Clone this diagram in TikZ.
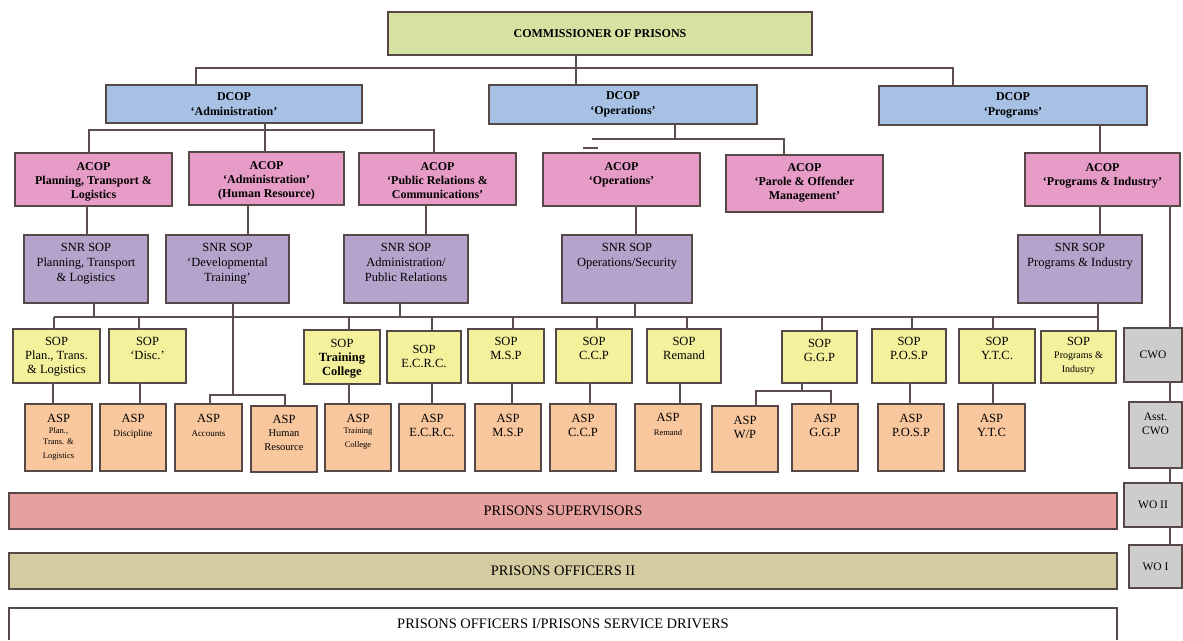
\documentclass[tikz,border=0pt]{standalone}
\usepackage{fontspec}
\setmainfont{Liberation Serif}
\definecolor{bord}{HTML}{574848}
\definecolor{cline}{HTML}{5C4E4E}
\definecolor{comg}{HTML}{D5E2A2}
\definecolor{dcopc}{HTML}{A6C1E3}
\definecolor{acopc}{HTML}{E69CC6}
\definecolor{snrc}{HTML}{B4A3CB}
\definecolor{sopc}{HTML}{F4F19C}
\definecolor{aspc}{HTML}{F8C79D}
\definecolor{greyc}{HTML}{CDCDCD}
\definecolor{supc}{HTML}{E6A09E}
\definecolor{offc}{HTML}{D5CBA0}
\newcommand\fs[2]{\fontsize{#1pt}{#2pt}\selectfont}
\newcommand\BT[4]{\parbox[c][#2pt][t]{#1pt}{\centering\rule{0pt}{#3pt}#4\par}}
\tikzset{
  bx/.style={draw=bord, line width=1.7pt, inner sep=0pt, outer sep=0pt, anchor=north west},
  cbx/.style={bx, align=center},
  comst/.style={cbx, fill=comg, font=\bfseries\fs{12}{14}},
  dcopst/.style={cbx, fill=dcopc, font=\bfseries\fs{12}{15}},
  acopst/.style={bx, fill=acopc, font=\bfseries\fs{12}{14}},
  snrst/.style={bx, fill=snrc, font=\fs{12.5}{15}},
  sopst/.style={bx, fill=sopc, font=\fs{12.5}{14}},
  aspst/.style={bx, fill=aspc, font=\fs{12.5}{14}},
  greyst/.style={cbx, fill=greyc, font=\fs{11.5}{14}},
  barst/.style={cbx, font=\fs{14.5}{16}},
  ln/.style={draw=cline, line width=1.4pt},
}
\begin{document}
\begin{tikzpicture}[x=1pt,y=-1pt]
\useasboundingbox (0,0) rectangle (1183,640);
\fill[white] (0,0) rectangle (1183,640);

% ---------- top levels
\node[comst, minimum width=424pt, minimum height=43pt] (com) at (388,12) {COMMISSIONER OF PRISONS};
\node[dcopst, minimum width=256pt, minimum height=38pt] (dadm) at (106,85) {DCOP\\‘Administration’};
\node[dcopst, minimum width=268pt, minimum height=39pt] (dops) at (489,85) {DCOP\\‘Operations’};
\node[dcopst, minimum width=268pt, minimum height=39pt] (dprog) at (879,86) {DCOP\\‘Programs’};

% ---------- ACOP
\node[acopst] (a1) at (15,153) {\BT{157}{53}{17}{ACOP\\Planning, Transport \&\\Logistics}};
\node[acopst] (a2) at (189,152) {\BT{155}{53}{17}{ACOP\\‘Administration’\\(Human Resource)}};
\node[acopst] (a3) at (359,153) {\BT{157}{52}{17}{ACOP\\‘Public Relations \&\\Communications’}};
\node[acopst] (aops) at (543,153) {\BT{157}{53}{17}{ACOP\\‘Operations’}};
\node[acopst] (apar) at (726,155) {\BT{157}{57}{16}{ACOP\\‘Parole \& Offender\\Management’}};
\node[acopst] (aprog) at (1025,153) {\BT{155}{53}{18}{ACOP\\‘Programs \& Industry’}};

% ---------- SNR SOP
\node[snrst] (s1) at (24,235) {\BT{124}{68}{16}{SNR SOP\\Planning, Transport\\\& Logistics}};
\node[snrst] (s2) at (166,235) {\BT{123}{68}{16}{SNR SOP\\‘Developmental\\Training’}};
\node[snrst] (s3) at (344,235) {\BT{124}{68}{16}{SNR SOP\\Administration/\\Public Relations}};
\node[snrst] (sops) at (562,235) {\BT{130}{68}{16}{SNR SOP\\Operations/Security}};
\node[snrst] (sprog) at (1018,235) {\BT{124}{68}{16}{SNR SOP\\Programs \& Industry}};

% ---------- SOP
\node[sopst] (p1) at (13,329) {\BT{87}{54}{16}{SOP\\Plan., Trans.\\\& Logistics}};
\node[sopst] (pdisc) at (109,329) {\BT{77}{54}{16}{SOP\\‘Disc.’}};
\node[sopst] (ptc) at (304,330) {\BT{76}{54}{17}{SOP\\\textbf{Training}\\\textbf{College}}};
\node[sopst] (pecrc) at (387,331) {\BT{74}{52}{22}{SOP\\E.C.R.C.}};
\node[sopst] (pmsp) at (468,329) {\BT{76}{54}{16}{SOP\\M.S.P}};
\node[sopst] (pccp) at (556,329) {\BT{76}{54}{16}{SOP\\C.C.P}};
\node[sopst] (prem) at (647,329) {\BT{74}{54}{16}{SOP\\Remand}};
\node[sopst] (pggp) at (782,331) {\BT{75}{52}{16}{SOP\\G.G.P}};
\node[sopst] (pposp) at (872,329) {\BT{74}{54}{16}{SOP\\P.O.S.P}};
\node[sopst] (pytc) at (959,329) {\BT{76}{54}{16}{SOP\\Y.T.C.}};
\node[sopst] (pprog) at (1041,331) {\BT{75}{52}{14}{SOP\\{\fs{10}{13}Programs \&\\Industry}}};
\node[greyst, minimum width=58pt, minimum height=54pt] (cwo) at (1124,328) {CWO};

% ---------- ASP
\node[aspst] (q1) at (25,404) {\BT{67}{67}{18}{ASP\\{\fs{8.5}{11}Plan.,\\Trans. \&\\Logistics}}};
\node[aspst] (qdisc) at (100,404) {\BT{66}{67}{18}{ASP\\{\fs{9.5}{12}Discipline}}};
\node[aspst] (qacc) at (175,404) {\BT{67}{67}{18}{ASP\\{\fs{9}{11}Accounts}}};
\node[aspst] (qhr) at (251,406) {\BT{66}{66}{17}{ASP\\{\fs{10.5}{13}Human\\Resource}}};
\node[aspst] (qtc) at (325,404) {\BT{66}{67}{18}{ASP\\{\fs{8.5}{11}Training\\College}}};
\node[aspst] (qecrc) at (399,404) {\BT{66}{67}{18}{ASP\\E.C.R.C.}};
\node[aspst] (qmsp) at (475,404) {\BT{66}{67}{18}{ASP\\M.S.P}};
\node[aspst] (qccp) at (550,404) {\BT{66}{67}{18}{ASP\\C.C.P}};
\node[aspst] (qrem) at (635,404) {\BT{66}{67}{17}{ASP\\{\fs{8.5}{11}Remand}}};
\node[aspst] (qwp) at (712,406) {\BT{66}{66}{18}{ASP\\W/P}};
\node[aspst] (qggp) at (792,404) {\BT{66}{67}{18}{ASP\\G.G.P}};
\node[aspst] (qposp) at (878,404) {\BT{66}{67}{18}{ASP\\P.O.S.P}};
\node[aspst] (qytc) at (958,404) {\BT{67}{67}{18}{ASP\\Y.T.C}};
\node[bx, fill=greyc, font=\fs{11.5}{14}] (acwo) at (1129,402) {\BT{53}{66}{18}{Asst.\\CWO}};

% ---------- bars
\node[barst, fill=supc, minimum width=1108pt, minimum height=36pt] (sup) at (9,493) {PRISONS SUPERVISORS};
\node[greyst, minimum width=58pt, minimum height=44pt] (wo2) at (1124,483) {WO II};
\node[barst, fill=offc, minimum width=1108pt, minimum height=36pt] (off2) at (9,553) {PRISONS OFFICERS II};
\node[greyst, minimum width=53pt, minimum height=43pt] (wo1) at (1129,545) {WO I};
\node[barst, draw=none, minimum width=1108pt, minimum height=32pt] (wbar) at (9,608) {PRISONS OFFICERS I/PRISONS SERVICE DRIVERS};
\draw[draw=bord, line width=1.7pt] (wbar.south west) -- (wbar.north west) -- (wbar.north east) -- (wbar.south east);

% ---------- connectors: top
\coordinate (jt1) at (196,68);
\coordinate (jt2) at (953,68);
\coordinate (jt3) at (576,68);
\draw[ln] (jt1 |- dadm.north) -- (jt1) -- (jt2) -- (jt2 |- dprog.north);
\draw[ln] (jt3 |- com.south) -- (jt3 |- dops.north);

% DCOP admin -> ACOPs
\coordinate (ja) at (265,130);
\coordinate (ja1) at (89,130);
\coordinate (ja3) at (434,130);
\draw[ln] (ja |- dadm.south) -- (ja) -- (ja |- a2.north);
\draw[ln] (ja1 |- a1.north) -- (ja1) -- (ja3) -- (ja3 |- a3.north);

% DCOP ops -> ACOP parole
\coordinate (jo) at (675,139);
\coordinate (jo1) at (592,139);
\coordinate (jo2) at (784,139);
\draw[ln] (jo |- dops.south) -- (jo);
\draw[ln] (jo1) -- (jo2) -- (jo2 |- apar.north);
\coordinate (dsh1) at (583,148);
\coordinate (dsh2) at (598,148);
\draw[ln, line width=1.1pt] (dsh1) -- (dsh2);

% DCOP prog -> ACOP prog
\draw[ln] (1100,0 |- dprog.south) -- (1100,0 |- aprog.north);

% ACOP -> SNR SOP
\draw[ln] (87,0 |- a1.south) -- (87,0 |- s1.north);
\draw[ln] (248,0 |- a2.south) -- (248,0 |- s2.north);
\draw[ln] (426,0 |- a3.south) -- (426,0 |- s3.north);
\draw[ln] (636,0 |- aops.south) -- (636,0 |- sops.north);
\draw[ln] (1100,0 |- aprog.south) -- (1100,0 |- sprog.north);

% right chain
\draw[ln] (1170,0 |- aprog.south) -- (1170,0 |- cwo.north);
\draw[ln] (1170,0 |- cwo.south) -- (1170,0 |- acwo.north);
\draw[ln] (1170,0 |- acwo.south) -- (1170,0 |- wo2.north);
\draw[ln] (1170,0 |- wo2.south) -- (1170,0 |- wo1.north);

% SNR -> SOP bus
\coordinate (bl) at (54,317);
\coordinate (br) at (1098,317);
\draw[ln] (bl) -- (br);
\draw[ln] (94,0 |- s1.south) -- (94,0 |- bl);
\draw[ln] (400,0 |- s3.south) -- (400,0 |- bl);
\draw[ln] (635,0 |- sops.south) -- (635,0 |- bl);
\draw[ln] (br |- sprog.south) -- (br |- pprog.north);
\foreach \xx/\nn in {54/p1, 139/pdisc, 349/ptc, 432/pecrc, 513/pmsp, 597/pccp, 687/prem, 822/pggp, 912/pposp, 993/pytc}
  \draw[ln] (\xx,0 |- bl) -- (\xx,0 |- \nn.north);

% SNR dev training -> Accounts / HR
\coordinate (jd) at (233,395);
\coordinate (jd1) at (210,395);
\coordinate (jd2) at (285,395);
\draw[ln] (jd |- s2.south) -- (jd);
\draw[ln] (jd1 |- qacc.north) -- (jd1) -- (jd2) -- (jd2 |- qhr.north);

% SOP -> ASP
\foreach \xx/\aa/\bb in {53/p1/q1, 140/pdisc/qdisc, 349/ptc/qtc, 432/pecrc/qecrc, 512/pmsp/qmsp, 590/pccp/qccp, 680/prem/qrem, 910/pposp/qposp, 993/pytc/qytc}
  \draw[ln] (\xx,0 |- \aa.south) -- (\xx,0 |- \bb.north);

% GGP bracket
\coordinate (jg) at (802,391);
\coordinate (jg1) at (756,391);
\coordinate (jg2) at (831,391);
\draw[ln] (jg |- pggp.south) -- (jg);
\draw[ln] (jg1 |- qwp.north) -- (jg1) -- (jg2) -- (jg2 |- qggp.north);
\end{tikzpicture}
\end{document}
